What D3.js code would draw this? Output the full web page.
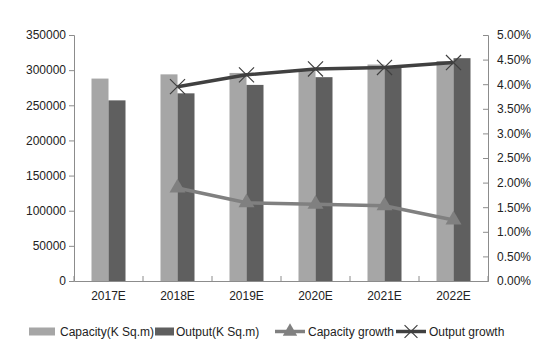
<!DOCTYPE html>
<html><head><meta charset="utf-8">
<script src="https://cdn.jsdelivr.net/npm/d3@7"></script>
<style>body{margin:0;background:#fff}svg{display:block}text{font-family:"Liberation Sans",Arial,sans-serif;fill:#222}</style>
</head><body><svg id="c" width="544" height="349"></svg>
<script>
const categories = ["2017E","2018E","2019E","2020E","2021E","2022E"];
const capacity = [288000, 294000, 296000, 299000, 308000, 313000];
const output = [257000, 267000, 279000, 290000, 304000, 317000];
const capacityGrowth = [null, 0.0189, 0.0159, 0.0156, 0.0153, 0.0124];
const outputGrowth = [null, 0.0395, 0.0419, 0.0431, 0.0434, 0.0444];
const leftTicks = [0,50000,100000,150000,200000,250000,300000,350000];
const rightTicks = [0,0.005,0.01,0.015,0.02,0.025,0.03,0.035,0.04,0.045,0.05];
const legendLabels = ["Capacity(K Sq.m)","Output(K Sq.m)","Capacity growth","Output growth"];

const svg = d3.select("#c");
const L = 74, R = 488, T = 35, B = 281;
const x = d3.scaleBand().domain(categories).range([L, R]);
const y = d3.scaleLinear().domain([0, 350000]).range([B, T]);
const y2 = d3.scaleLinear().domain([0, 0.05]).range([B, T]);
const axisColor = "#8c8c8c";
const cCap = "#a6a6a6", cOut = "#5f5f5f", cCapG = "#808080", cOutG = "#404040";
const bw = 17;

// bars
svg.append("g").selectAll("rect").data(categories).join("rect")
  .attr("x", d => x(d) + x.bandwidth()/2 - bw).attr("width", bw)
  .attr("y", (d,i) => y(capacity[i])).attr("height", (d,i) => B - y(capacity[i]))
  .attr("fill", cCap);
svg.append("g").selectAll("rect").data(categories).join("rect")
  .attr("x", d => x(d) + x.bandwidth()/2).attr("width", bw)
  .attr("y", (d,i) => y(output[i])).attr("height", (d,i) => B - y(output[i]))
  .attr("fill", cOut);

// left axis
const la = svg.append("g").attr("transform", `translate(${L},0)`)
  .call(d3.axisLeft(y).tickValues(leftTicks).tickFormat(d3.format("d")).tickSize(5).tickPadding(3));
// right axis
const ra = svg.append("g").attr("transform", `translate(${R},0)`)
  .call(d3.axisRight(y2).tickValues(rightTicks).tickFormat(d3.format(".2%")).tickSize(-5).tickPadding(9));
// bottom axis
const ba = svg.append("g").attr("transform", `translate(0,${B})`)
  .call(d3.axisBottom(x).tickSize(0).tickPadding(10));
[la, ra, ba].forEach(g => {
  g.select(".domain").attr("stroke", axisColor);
  g.selectAll(".tick line").attr("stroke", axisColor);
  g.selectAll("text").attr("font-size", 12).attr("fill", "#222").attr("font-family", '"Liberation Sans",Arial,sans-serif');
});
// category boundary ticks
svg.append("g").selectAll("line").data(d3.range(categories.length + 1)).join("line")
  .attr("x1", i => L + i * x.step()).attr("x2", i => L + i * x.step())
  .attr("y1", B).attr("y2", B - 5).attr("stroke", axisColor);

// lines
const pts = arr => categories.map((c,i) => [c, arr[i]]).filter(d => d[1] !== null);
const line = d3.line().x(d => x(d[0]) + x.bandwidth()/2).y(d => y2(d[1]));
svg.append("path").datum(pts(capacityGrowth)).attr("d", line)
  .attr("fill", "none").attr("stroke", cCapG).attr("stroke-width", 3.5);
svg.append("g").selectAll("path").data(pts(capacityGrowth)).join("path")
  .attr("d", d3.symbol(d3.symbolTriangle, 110))
  .attr("transform", d => `translate(${x(d[0]) + x.bandwidth()/2},${y2(d[1])})`)
  .attr("fill", cCapG);
svg.append("path").datum(pts(outputGrowth)).attr("d", line)
  .attr("fill", "none").attr("stroke", cOutG).attr("stroke-width", 3.5);
svg.append("g").selectAll("path").data(pts(outputGrowth)).join("path")
  .attr("d", d3.symbol(d3.symbolX, 150))
  .attr("transform", d => `translate(${x(d[0]) + x.bandwidth()/2},${y2(d[1])})`)
  .attr("fill", "none").attr("stroke", cOutG).attr("stroke-width", 1.2);

// legend
const ly = 331.5;
const lg = svg.append("g");
lg.append("rect").attr("x", 29).attr("y", ly - 4).attr("width", 26).attr("height", 8).attr("fill", cCap);
lg.append("text").attr("x", 60).attr("y", ly + 4).attr("font-size", 12).text(legendLabels[0]);
lg.append("rect").attr("x", 155).attr("y", ly - 4).attr("width", 19).attr("height", 8).attr("fill", cOut);
lg.append("text").attr("x", 176).attr("y", ly + 4).attr("font-size", 12).text(legendLabels[1]);
lg.append("line").attr("x1", 275).attr("x2", 305).attr("y1", ly).attr("y2", ly).attr("stroke", cCapG).attr("stroke-width", 3.5);
lg.append("path").attr("d", d3.symbol(d3.symbolTriangle, 90)).attr("transform", `translate(290,${ly})`).attr("fill", cCapG);
lg.append("text").attr("x", 308).attr("y", ly + 4).attr("font-size", 12).text(legendLabels[2]);
lg.append("line").attr("x1", 396).attr("x2", 426).attr("y1", ly).attr("y2", ly).attr("stroke", cOutG).attr("stroke-width", 3.5);
lg.append("path").attr("d", d3.symbol(d3.symbolX, 110)).attr("transform", `translate(411,${ly})`).attr("fill", "none").attr("stroke", cOutG).attr("stroke-width", 1.2);
lg.append("text").attr("x", 429).attr("y", ly + 4).attr("font-size", 12).text(legendLabels[3]);
</script></body></html>
